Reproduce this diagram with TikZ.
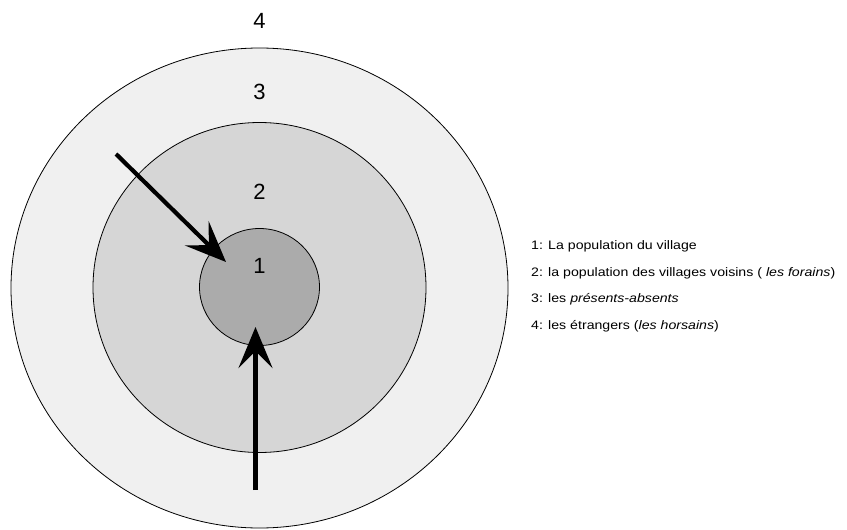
\documentclass[tikz,border=0pt]{standalone}
\usepackage{fontspec}
\setmainfont{Liberation Sans}
\newfontfamily\legendfont[FakeStretch=1.15]{Liberation Sans}
\usetikzlibrary{arrows.meta, shapes.geometric, positioning}

\definecolor{zone3}{gray}{0.94}
\definecolor{zone2}{gray}{0.84}
\definecolor{zone1}{gray}{0.67}

\tikzset{
  ring/.style={ellipse, draw, line width=0.8pt, inner sep=0pt, outer sep=0pt},
  zonelabel/.style={font=\fontsize{22}{24}\selectfont, inner sep=0pt},
  legend/.style={font=\legendfont\fontsize{12.3}{14}\selectfont, anchor=base west, inner sep=0pt},
  flow/.style={line width=4.2pt, ->}
}

\begin{document}
\begin{tikzpicture}[x=1pt,y=-1pt,>={Stealth[length=41pt,width=34pt,inset=17pt]}]
\useasboundingbox (0,0) rectangle (847,530);

% define the rings
  \node[ring, fill=zone3, minimum width=497pt, minimum height=480pt] (r3) at (259.5,288) {};
  \node[ring, fill=zone2, minimum width=333pt, minimum height=330pt] (r2) at (259.5,287.5) {};
  \node[ring, fill=zone1, minimum width=120pt, minimum height=117pt] (r1) at (259.5,287) {};

% zone numbers
  \node[zonelabel] (n4) at (259.5,21.3) {4};
  \node[zonelabel] (n3) at (259.5,91.7) {3};
  \node[zonelabel] (n2) at (259.5,192) {2};
  \node[zonelabel] (n1) at (259.5,266) {1};

% define the arrows
  \coordinate (a1) at (116,154);
  \coordinate (b1) at (226,262);
  \coordinate (a2) at (255.5,490);
  \coordinate (b2) at (255.5,327);
  \draw[flow] (a1) -- (b1);
  \draw[flow] (a2) -- (b2);

% legend
  \node[legend] (l1) at (531,249.3) {1: La population du village};
  \node[legend] (l2) at (531,276) {2: la population des villages voisins ( \textit{les forains})};
  \node[legend] (l3) at (531,302.6) {3: les \textit{présents-absents}};
  \node[legend] (l4) at (531,329.3) {4: les étrangers (\textit{les horsains})};
\end{tikzpicture}
\end{document}
